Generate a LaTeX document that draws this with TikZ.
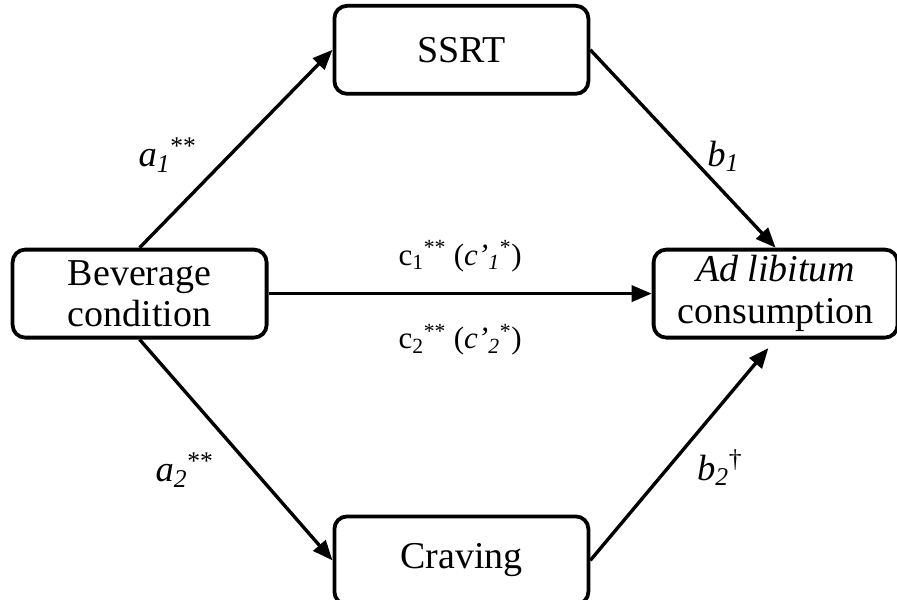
\documentclass[tikz,border=0pt]{standalone}
\usepackage{fontspec}
\setmainfont{Liberation Serif}
\usetikzlibrary{arrows.meta,positioning}
\tikzset{
block/.style={draw,line width=2.7pt,rounded corners=9pt,align=center,minimum height=2.2cm,minimum width=6.35cm,inner sep=0pt,font=\fontsize{27}{29.5}\selectfont},
coeff/.style={inner sep=0pt,font=\fontsize{26}{30}\selectfont},
ccoeff/.style={inner sep=0pt,font=\fontsize{22}{26}\selectfont},
arrow/.style={-{Triangle[length=.5cm,width=.4cm]},line width=2.4pt}
}

\begin{document}
\begin{tikzpicture}[node distance=3.8cm and 1.6cm]
\useasboundingbox (0,0) rectangle (22.425,-14.975);
\node[block] (bev) at (3.49,-7.34) {Beverage\\condition};
\node[block,above right=3.8cm and 1.6cm of bev] (ssrt) {SSRT};
\node[block,below right=4.375cm and 1.6cm of bev] (crav) {Craving};
\node[block,minimum width=6.1cm,right=9.58cm of bev] (adlib) {\textit{Ad libitum}\\consumption};

\draw[arrow](bev.north)--node[coeff,pos=.47,left=.8cm]{\textit{a}\textsubscript{\textit{1}}\textsuperscript{**}}(ssrt.west);
\draw[arrow](bev.south)--node[coeff,pos=.59,left=.95cm]{\textit{a}\textsubscript{\textit{2}}\textsuperscript{**}}(crav.west);
\draw[arrow](ssrt.east)--node[coeff,pos=.54,right=.38cm]{\textit{b}\textsubscript{\textit{1}}}(adlib.north);
\draw[arrow,shorten >=.28cm](crav.east)--node[coeff,pos=.42,right=.68cm]{\textit{b}\textsubscript{\textit{2}}\textsuperscript{\textdagger}}(adlib.south);
\draw[arrow](bev)--node[ccoeff,above=.5cm]{c\textsubscript{1}\textsuperscript{**} (\textit{c’}\textsubscript{\textit{1}}\textsuperscript{*})}
 node[ccoeff,below=.72cm]{c\textsubscript{2}\textsuperscript{**} (\textit{c’}\textsubscript{\textit{2}}\textsuperscript{*})}(adlib);
\end{tikzpicture}
\end{document}
